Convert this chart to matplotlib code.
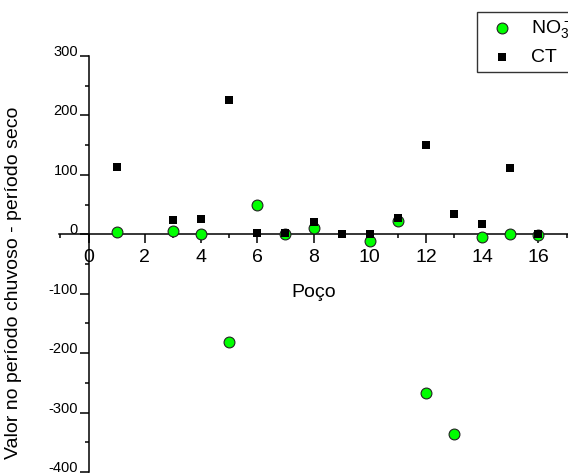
import matplotlib
matplotlib.use("Agg")
import matplotlib.pyplot as plt
from matplotlib.ticker import MultipleLocator
from matplotlib.transforms import ScaledTranslation

plt.rcParams['font.family'] = ['Liberation Sans', 'DejaVu Sans']
plt.rcParams['mathtext.default'] = 'regular'
plt.rcParams['axes.unicode_minus'] = False

# dados: diferença (período chuvoso - período seco) por poço
pocos_no3 = [1, 3, 4, 5, 6, 7, 8, 10, 11, 12, 13, 14, 15, 16]
no3 = [4, 5, 0, -181, 49, 1, 11, -11, 23, -267, -336, -5, 0.5, -1]

pocos_ct = [1, 3, 4, 5, 6, 7, 8, 9, 10, 11, 12, 13, 14, 15, 16]
ct = [114, 24, 25, 226, 2, 3, 21, 1, 0, 28, 151, 34, 18, 112, 1]

x_ticks = [0, 2, 4, 6, 8, 10, 12, 14, 16]
y_ticks = [-400, -300, -200, -100, 0, 100, 200, 300]

W, H = 568, 473
fig = plt.figure(figsize=(W / 100, H / 100), dpi=100)
ax = fig.add_axes([59 / W, 1 / H, (568 - 59) / W, (472 - 56) / H])

ax.scatter(pocos_no3, no3, s=7.8 ** 2, marker='o', facecolor='#00ff00',
           edgecolor='#222222', linewidth=0.8, zorder=3, label='NO$_3^-$')
ax.scatter(pocos_ct, ct, s=5.9 ** 2, marker='s', color='black',
           linewidth=0, zorder=4, label='CT')

ax.set_xlim(-1.05, 17.05)
ax.set_ylim(-400, 300)

# eixos cruzando em zero
ax.spines['left'].set_position(('data', 0))
ax.spines['bottom'].set_position(('data', 0))
ax.spines['right'].set_visible(False)
ax.spines['top'].set_visible(False)
ax.spines['left'].set_linewidth(1.1)
ax.spines['bottom'].set_linewidth(1.1)

ax.set_xticks(x_ticks)
ax.set_yticks(y_ticks)
ax.xaxis.set_minor_locator(MultipleLocator(1))
ax.yaxis.set_minor_locator(MultipleLocator(50))
ax.tick_params(axis='both', which='major', direction='out', length=6.5, width=1.1)
ax.tick_params(axis='both', which='minor', direction='out', length=3, width=1.1)
ax.tick_params(axis='x', which='major', labelsize=14, pad=4)
ax.tick_params(axis='y', which='major', labelsize=10.5, pad=1)

# rótulos do eixo y um pouco acima do traço (como no original)
off = ScaledTranslation(0, 4 / 72, fig.dpi_scale_trans)
for lab in ax.get_yticklabels():
    lab.set_transform(lab.get_transform() + off)

ax.set_xlabel('Poço', fontsize=14, labelpad=13)
ax.set_ylabel('Valor no período chuvoso - período seco', fontsize=14)
ax.yaxis.set_label_coords(-0.072, 0.455)

leg = ax.legend(loc='upper left', bbox_to_anchor=(477 / W, 1 - 12 / H),
                bbox_transform=fig.transFigure, borderaxespad=0, fontsize=14,
                frameon=True, fancybox=False, edgecolor='black',
                handletextpad=0.5, labelspacing=0.45, borderpad=0.3)
leg.get_frame().set_linewidth(1.0)

fig.savefig('out.png', dpi=100)
